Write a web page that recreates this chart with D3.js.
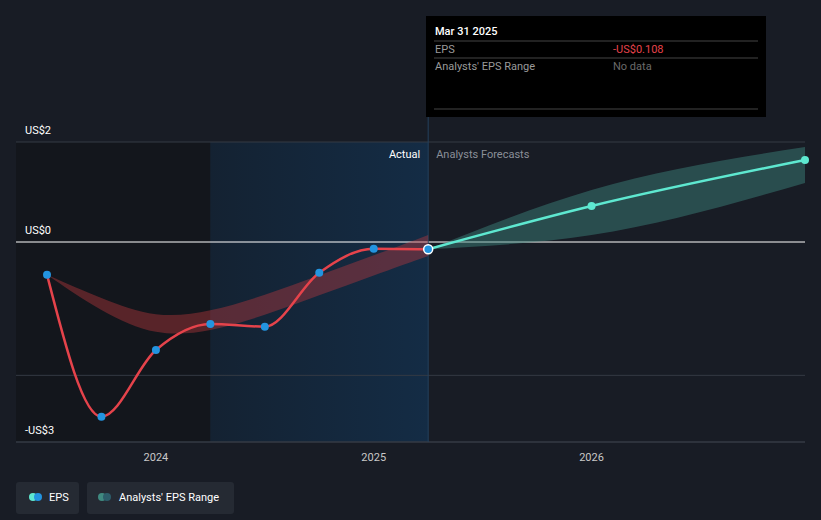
<!DOCTYPE html>
<html>
<head>
<meta charset="utf-8">
<script src="https://cdn.jsdelivr.net/npm/d3@7"></script>
<style>
  body { margin: 0; background: #181c25; font-family: Roboto, "Open Sans", sans-serif; }
  svg { display: block; }
</style>
</head>
<body>
<svg id="chart" width="821" height="520"></svg>
<script>
// EPS actual (fractional year, value)
var actualDates = [2023.5, 2023.75, 2024.0, 2024.25, 2024.5, 2024.75, 2025.0, 2025.25];
var actualEps = [-0.49, -2.62, -1.62, -1.23, -1.27, -0.46, -0.1, -0.108];
// analysts range over the actual period
var rangeDates = [2023.5, 2023.75, 2024.0, 2024.25, 2024.5, 2024.75, 2025.0, 2025.25];
var rangeLow = [-0.49, -1.05, -1.42, -1.35, -1.1, -0.8, -0.5, -0.21];
var rangeHigh = [-0.49, -0.85, -1.15, -1.05, -0.8, -0.5, -0.2, 0.14];
// forecast
var fcDates = [2025.25, 2026.0, 2026.98];
var fcEps = [-0.108, 0.72, 1.64];
var fcLow = [-0.108, 0.14, 1.18];
var fcHigh = [-0.108, 1.04, 1.9];
var yTicks = [2, 0, -2, -3];
var yLabels = {"2": "US$2", "0": "US$0", "-3": "-US$3"};
var xTicks = [2024, 2025, 2026];

var svg = d3.select("#chart");
var x = d3.scaleLinear().domain([2023.5, 2026.98]).range([47, 805]);
var y = d3.scaleLinear().domain([-3, 0, 2]).range([442, 242, 142]);
var plotTop = 142, plotBottom = 442, plotLeft = 16, plotRight = 805;
var nowX = x(2025.25);

// past region shading
svg.append("rect").attr("x", plotLeft).attr("y", plotTop).attr("width", x(2024.25) - plotLeft)
  .attr("height", plotBottom - plotTop).attr("fill", "#13161c");
var grad = svg.append("defs").append("linearGradient").attr("id", "blue")
  .attr("x1", 0).attr("x2", 1).attr("y1", 0).attr("y2", 0);
grad.append("stop").attr("offset", 0).attr("stop-color", "#142232");
grad.append("stop").attr("offset", 1).attr("stop-color", "#142c45");
svg.append("rect").attr("x", x(2024.25)).attr("y", plotTop).attr("width", nowX - x(2024.25))
  .attr("height", plotBottom - plotTop).attr("fill", "url(#blue)");

// gridlines
yTicks.forEach(function(t) {
  svg.append("line").attr("x1", plotLeft).attr("x2", plotRight).attr("y1", y(t)).attr("y2", y(t))
    .attr("stroke", t === 0 ? "#ffffff" : "#343a44").attr("stroke-width", 1);
  if (yLabels[t]) {
    svg.append("text").attr("x", 25).attr("y", y(t) - 8).attr("fill", "#ffffff")
      .attr("font-size", 11).text(yLabels[t]);
  }
});
svg.append("line").attr("x1", plotLeft).attr("x2", plotRight).attr("y1", plotBottom).attr("y2", plotBottom)
  .attr("stroke", "#343a44");

// x axis labels
xTicks.forEach(function(t) {
  svg.append("text").attr("x", x(t)).attr("y", 461).attr("text-anchor", "middle")
    .attr("fill", "#c8c8c8").attr("font-size", 11).text(t);
});

// now divider
svg.append("line").attr("x1", nowX).attr("x2", nowX).attr("y1", 117).attr("y2", plotBottom)
  .attr("stroke", "#24405c");
svg.append("text").attr("x", nowX - 8).attr("y", 158).attr("text-anchor", "end")
  .attr("fill", "#ffffff").attr("font-size", 11).text("Actual");
svg.append("text").attr("x", nowX + 8).attr("y", 158).attr("fill", "#8a8f98")
  .attr("font-size", 11).text("Analysts Forecasts");

// ranges
var area = d3.area().curve(d3.curveBasis)
  .x(function(d) { return x(d[0]); }).y0(function(d) { return y(d[1]); }).y1(function(d) { return y(d[2]); });
svg.append("path").datum(d3.zip(rangeDates, rangeLow, rangeHigh))
  .attr("d", area).attr("fill", "#c0393f").attr("fill-opacity", 0.4);
svg.append("path").datum(d3.zip(fcDates, fcLow, fcHigh))
  .attr("d", area.curve(d3.curveMonotoneX)).attr("fill", "#3f8a80").attr("fill-opacity", 0.45);

// lines
var line = d3.line().curve(d3.curveMonotoneX)
  .x(function(d) { return x(d[0]); }).y(function(d) { return y(d[1]); });
svg.append("path").datum(d3.zip(actualDates, actualEps)).attr("d", line)
  .attr("fill", "none").attr("stroke", "#e5434b").attr("stroke-width", 2.5);
svg.append("path").datum(d3.zip(fcDates, fcEps)).attr("d", line)
  .attr("fill", "none").attr("stroke", "#5ee8d0").attr("stroke-width", 2.5);

// points
svg.selectAll(".pa").data(d3.zip(actualDates, actualEps).slice(0, -1)).enter().append("circle")
  .attr("cx", function(d) { return x(d[0]); }).attr("cy", function(d) { return y(d[1]); })
  .attr("r", 4).attr("fill", "#2394e0");
svg.selectAll(".pf").data(d3.zip(fcDates, fcEps).slice(1)).enter().append("circle")
  .attr("cx", function(d) { return x(d[0]); }).attr("cy", function(d) { return y(d[1]); })
  .attr("r", 4).attr("fill", "#5ee8d0");
svg.append("circle").attr("cx", nowX).attr("cy", y(actualEps[actualEps.length - 1]))
  .attr("r", 4.5).attr("fill", "#2394e0").attr("stroke", "#ffffff").attr("stroke-width", 1.5);

// tooltip
var tip = svg.append("g").attr("transform", "translate(426,16)");
tip.append("rect").attr("width", 340).attr("height", 101).attr("fill", "#000000");
tip.append("text").attr("x", 9).attr("y", 19).attr("fill", "#ffffff").attr("font-size", 11)
  .attr("font-weight", 500).text("Mar 31 2025");
[25, 42, 93].forEach(function(ly) {
  tip.append("line").attr("x1", 8).attr("x2", 332).attr("y1", ly).attr("y2", ly).attr("stroke", "#444");
});
tip.append("text").attr("x", 9).attr("y", 37).attr("fill", "#9a9a9a").attr("font-size", 11).text("EPS");
tip.append("text").attr("x", 187).attr("y", 37).attr("fill", "#e5434b").attr("font-size", 11)
  .text("-US$0.108");
tip.append("text").attr("x", 9).attr("y", 54).attr("fill", "#9a9a9a").attr("font-size", 11)
  .text("Analysts' EPS Range");
tip.append("text").attr("x", 187).attr("y", 54).attr("fill", "#6a6a6a").attr("font-size", 11)
  .text("No data");

// legend
var lg = svg.append("g");
lg.append("rect").attr("x", 16).attr("y", 482).attr("width", 63).attr("height", 32).attr("rx", 3).attr("fill", "#252a33");
lg.append("circle").attr("cx", 33).attr("cy", 497).attr("r", 4).attr("fill", "#5ee8d0");
lg.append("circle").attr("cx", 38).attr("cy", 497).attr("r", 4).attr("fill", "#2394e0");
lg.append("text").attr("x", 49).attr("y", 501).attr("fill", "#ffffff").attr("font-size", 11).text("EPS");
lg.append("rect").attr("x", 87).attr("y", 482).attr("width", 147).attr("height", 32).attr("rx", 3).attr("fill", "#252a33");
lg.append("circle").attr("cx", 102).attr("cy", 497).attr("r", 4).attr("fill", "#3f8a80");
lg.append("circle").attr("cx", 107).attr("cy", 497).attr("r", 4).attr("fill", "#2d5d6a");
lg.append("text").attr("x", 119).attr("y", 501).attr("fill", "#ffffff").attr("font-size", 11).text("Analysts' EPS Range");
</script>
</body>
</html>
